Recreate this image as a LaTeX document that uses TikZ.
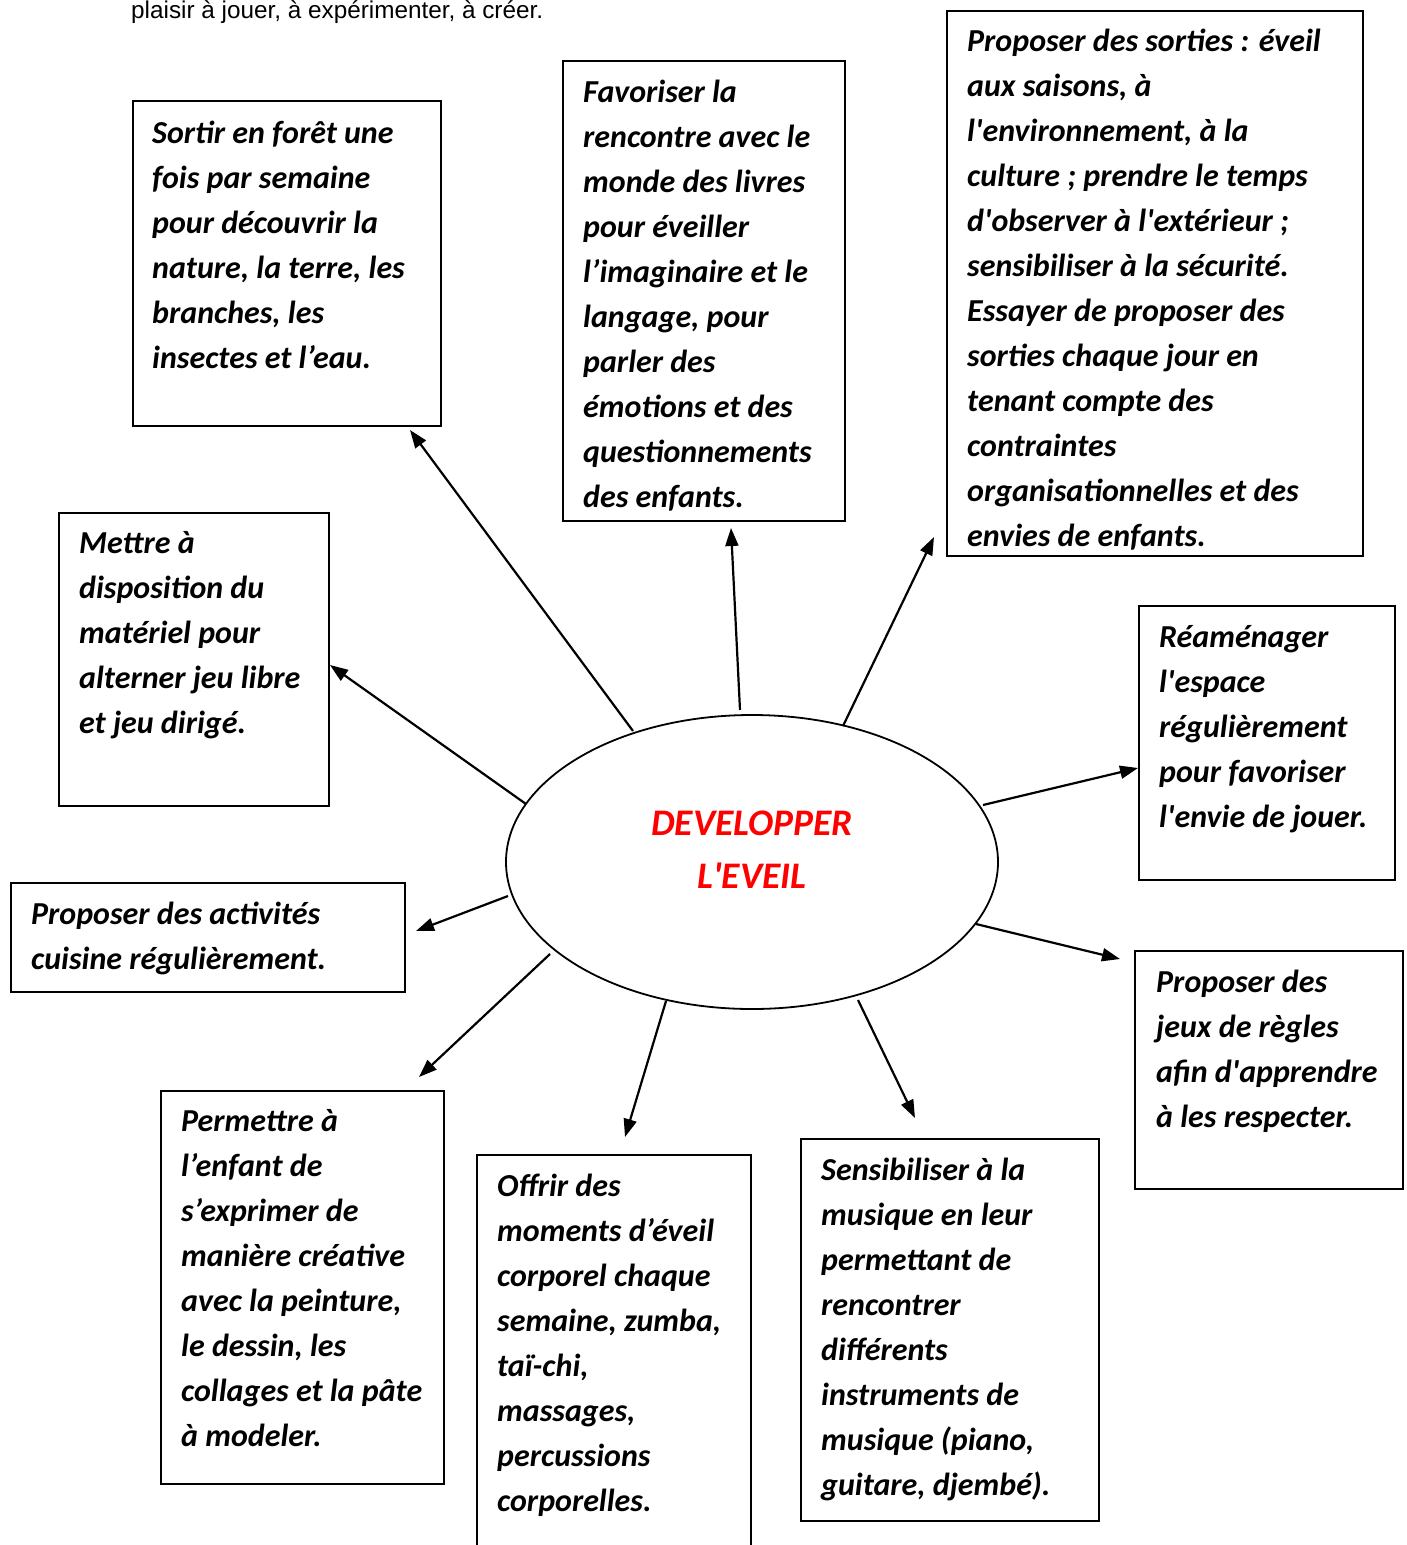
\documentclass[tikz,border=0pt]{standalone}
\usepackage{fontspec}
\newfontfamily\bx{Carlito}
\newfontfamily\arl{Liberation Sans}
\usetikzlibrary{shapes.geometric,arrows.meta}
\begin{document}
\begin{tikzpicture}[x=1pt,y=-1pt,
  box/.style={draw, line width=1.8pt, rectangle, inner sep=0pt, anchor=north west},
  txt/.style={anchor=north west, yshift=21.5pt, align=left, inner sep=0pt, font=\bx\bfseries\itshape\fontsize{32}{45}\selectfont, execute at begin node=\strut},
  arr/.style={line width=2.2pt, -{Triangle[length=18pt,width=13pt]}},
  ttl/.style={anchor=base, inner sep=0pt, text=red, font=\bx\bfseries\itshape\fontsize{37.5}{46}\selectfont}]
\useasboundingbox (0,0) rectangle (1406,1545);
\fill[white] (0,0) rectangle (1406,1545);

\node[anchor=base west, inner sep=0pt, font=\arl\fontsize{24.3}{28}\selectfont] (top) at (131,18) {plaisir à jouer, à expérimenter, à créer.};

% ellipse
\node[draw, ellipse, line width=1.8pt, minimum width=492, minimum height=294, inner sep=0pt] (el) at (752,862) {};
\node[ttl] (t1) at (752,835) {DEVELOPPER};
\node[ttl] (t2) at (752,888) {L'EVEIL};

% boxes
\node[box, minimum width=308, minimum height=325] (b1) at (132,100) {};
\node[txt] (x1) at (152,142) {Sortir en forêt une\\fois par semaine\\pour découvrir la\\nature, la terre, les\\branches, les\\insectes et l’eau.};

\node[box, minimum width=282, minimum height=460] (b2) at (562,60) {};
\node[txt] (x2) at (583,101) {Favoriser la\\rencontre avec le\\monde des livres\\pour éveiller\\l’imaginaire et le\\langage, pour\\parler des\\émotions et des\\questionnements\\des enfants.};

\node[box, minimum width=416, minimum height=545] (b3) at (946,10) {};
\node[txt] (x3) at (967,50) {Proposer des sorties : éveil\\aux saisons, à\\l'environnement, à la\\culture ; prendre le temps\\d'observer à l'extérieur ;\\sensibiliser à la sécurité.\\Essayer de proposer des\\sorties chaque jour en\\tenant compte des\\contraintes\\organisationnelles et des\\envies de enfants.};

\node[box, minimum width=270, minimum height=293] (b4) at (58,512) {};
\node[txt] (x4) at (79,553) {Mettre à\\disposition du\\matériel pour\\alterner jeu libre\\et jeu dirigé.};

\node[box, minimum width=256, minimum height=274] (b5) at (1138,605) {};
\node[txt] (x5) at (1159,647) {Réaménager\\l'espace\\régulièrement\\pour favoriser\\l'envie de jouer.};

\node[box, minimum width=394, minimum height=109] (b6) at (10,882) {};
\node[txt] (x6) at (31,923) {Proposer des activités\\cuisine régulièrement.};

\node[box, minimum width=268, minimum height=238] (b7) at (1134,950) {};
\node[txt] (x7) at (1156,991) {Proposer des\\jeux de règles\\afin d'apprendre\\à les respecter.};

\node[box, minimum width=283, minimum height=393] (b8) at (160,1090) {};
\node[txt] (x8) at (181,1131) {Permettre à\\l’enfant de\\s’exprimer de\\manière créative\\avec la peinture,\\le dessin, les\\collages et la pâte\\à modeler.};

\node[box, minimum width=274, minimum height=420] (b9) at (476,1154) {};
\node[txt] (x9) at (497,1195) {Offrir des\\moments d’éveil\\corporel chaque\\semaine, zumba,\\taï-chi,\\massages,\\percussions\\corporelles.};

\node[box, minimum width=298, minimum height=382] (b10) at (800,1138) {};
\node[txt] (x10) at (821,1179) {Sensibiliser à la\\musique en leur\\permettant de\\rencontrer\\différents\\instruments de\\musique (piano,\\guitare, djembé).};

% arrow end points
\coordinate (s1) at (633,731);  \coordinate (e1) at (410,430);
\coordinate (s2) at (740,710);  \coordinate (e2) at (731,528);
\coordinate (s3) at (843,726);  \coordinate (e3) at (934,537);
\coordinate (s4) at (526,804);  \coordinate (e4) at (330,665);
\coordinate (s5) at (983,805);  \coordinate (e5) at (1138,768);
\coordinate (s6) at (508,896);  \coordinate (e6) at (416,931);
\coordinate (s7) at (976,924);  \coordinate (e7) at (1120,959);
\coordinate (s8) at (550,954);  \coordinate (e8) at (419,1077);
\coordinate (s9) at (666,1001); \coordinate (e9) at (625,1137);
\coordinate (s10) at (858,1000); \coordinate (e10) at (915,1118);
\foreach \i in {1,...,10} {\draw[arr] (s\i) -- (e\i);}
\end{tikzpicture}
\end{document}
